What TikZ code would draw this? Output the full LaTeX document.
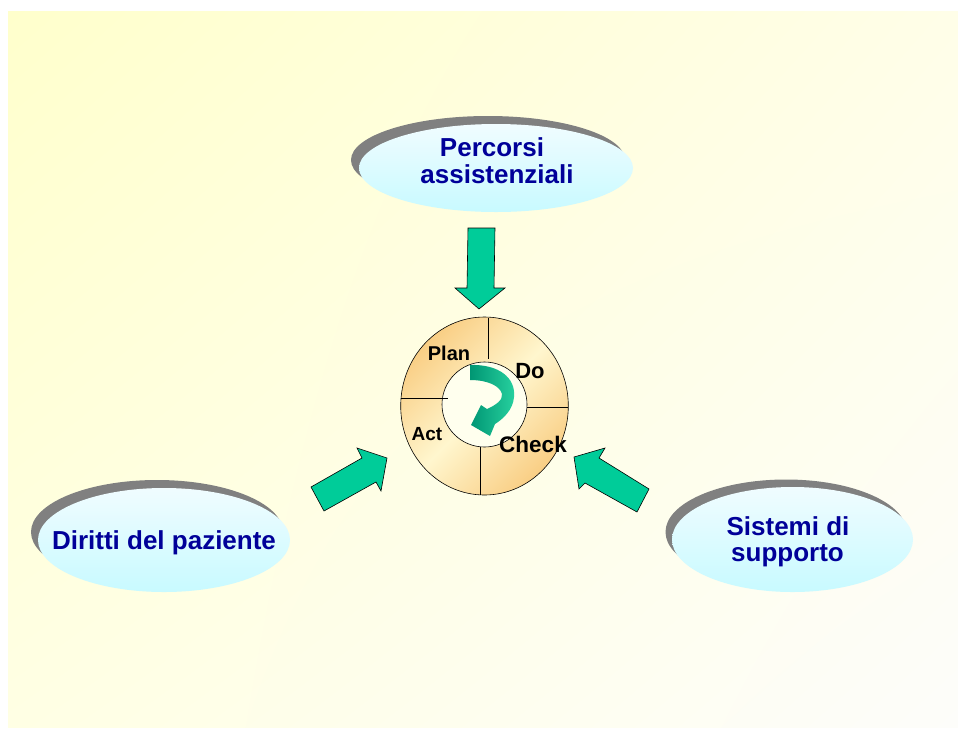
\documentclass[tikz,border=0pt]{standalone}
\usepackage{fontspec}
\setmainfont{Liberation Sans}
\usetikzlibrary{shapes.geometric,shadings}
\definecolor{navytext}{RGB}{0,0,153}
\definecolor{bgA}{RGB}{255,255,204}
\definecolor{bgB}{RGB}{255,254,232}
\definecolor{bgC}{RGB}{255,255,228}
\definecolor{bgD}{RGB}{253,253,250}
\definecolor{cyanTop}{RGB}{240,252,255}
\definecolor{cyanBot}{RGB}{200,250,255}
\definecolor{shadowgray}{RGB}{128,128,128}
\definecolor{ringdark}{RGB}{249,206,132}
\definecolor{ringlight}{RGB}{255,246,206}
\definecolor{innercream}{RGB}{255,255,238}
\definecolor{blockgreen}{RGB}{0,204,153}
\definecolor{curveA}{RGB}{0,150,115}
\definecolor{curveB}{RGB}{40,210,160}
\tikzset{
  shadowell/.style={ellipse, fill=shadowgray, inner sep=0pt},
  mainell/.style={ellipse, top color=cyanTop, bottom color=cyanBot, inner sep=0pt},
  elltext/.style={font=\bfseries\fontsize{26}{29}\selectfont, text=navytext, anchor=base, inner sep=0pt},
  pdcatext/.style={font=\bfseries, text=black, anchor=base, inner sep=0pt},
  blockarrow/.style={fill=blockgreen, draw=black, line width=0.6pt, line join=miter},
  divider/.style={draw=black, line width=0.6pt}
}
\begin{document}
\begin{tikzpicture}[x=1pt,y=-1pt]
\useasboundingbox (0,0) rectangle (958,729);
% background
\shade[upper left=bgA, upper right=bgB, lower left=bgC, lower right=bgD] (8,11) rectangle (958,727);

% ellipses with shadows
\node[shadowell, minimum width=274pt, minimum height=88pt] (topsh) at (488,160) {};
\node[mainell, minimum width=274pt, minimum height=88pt] (top) at (496,168) {};
\node[elltext] (t1) at (492,156) {Percorsi};
\node[elltext] (t2) at (497,183.5) {assistenziali};

\node[shadowell, minimum width=252pt, minimum height=104pt] (leftsh) at (157,532) {};
\node[mainell, minimum width=252pt, minimum height=104pt] (left) at (164,540) {};
\node[elltext] (l1) at (164,549) {Diritti del paziente};

\node[shadowell, minimum width=241pt, minimum height=105pt] (rightsh) at (786,532) {};
\node[mainell, minimum width=241pt, minimum height=105pt] (right) at (792.5,539.5) {};
\node[elltext] (r1) at (788,535) {Sistemi di};
\node[elltext] (r2) at (787.5,561) {supporto};

% PDCA ring
\node[ellipse, draw=black, line width=0.6pt, minimum width=167.6pt, minimum height=178pt, inner sep=0pt,
      top color=ringdark, bottom color=ringdark, middle color=ringlight, shading angle=45] (ring) at (484.5,406) {};
\node[circle, draw=black, line width=0.6pt, fill=innercream, minimum size=85pt, inner sep=0pt] (inner) at (484.5,404.5) {};
\draw[divider] (488,318) -- (488,359);
\draw[divider] (527,407) -- (568,407);
\draw[divider] (480,447) -- (480,495);
\draw[divider] (401,398) -- (448,398);

% curved arrow
\shade[left color=curveA, right color=curveB]
  (470,365) .. controls (499,364) and (516,378) .. (514,397)
  .. controls (513,410) and (503,419) .. (495,424)
  -- (490,436) -- (471,425) -- (481,405) -- (487,409)
  .. controls (496,405) and (503,400) .. (502,394)
  .. controls (500,386) and (488,380) .. (470,380) -- cycle;

% labels
\node[pdcatext, font=\bfseries\fontsize{20}{24}\selectfont] (plan) at (449,360) {Plan};
\node[pdcatext, font=\bfseries\fontsize{22}{26}\selectfont] (do) at (530,378) {Do};
\node[pdcatext, font=\bfseries\fontsize{22.5}{26}\selectfont] (check) at (533,452) {Check};
\node[pdcatext, font=\bfseries\fontsize{19}{23}\selectfont] (act) at (427,440) {Act};

% block arrows
\draw[blockarrow] (468,228) -- (495,228) -- (494,288) -- (505,288) -- (479,309) -- (455,288) -- (467,288) -- cycle;
\draw[blockarrow] (311,487) -- (362,458) -- (357,448) -- (387,458) -- (381,491) -- (376,482) -- (324,511) -- cycle;
\draw[blockarrow] (649,489) -- (599,458) -- (605,448) -- (574,457) -- (579,489) -- (585,483) -- (637,512) -- cycle;
\end{tikzpicture}
\end{document}
